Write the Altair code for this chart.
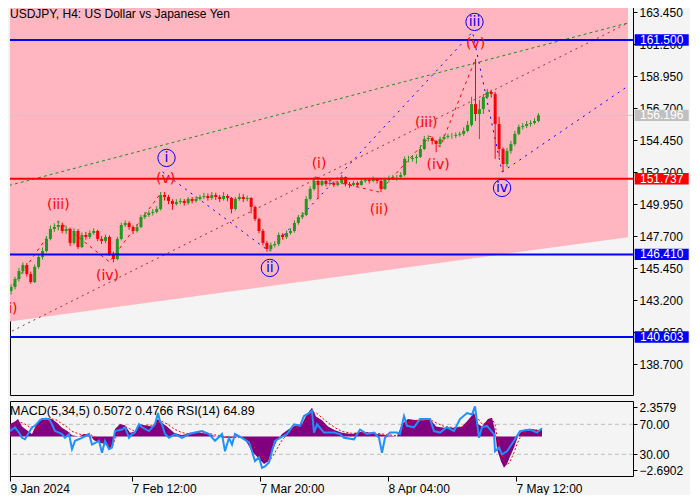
import altair as alt
import pandas as pd

TITLE = "USDJPY, H4:  US Dollar vs Japanese Yen"
IND_TITLE = "MACD(5,34,5) 0.5072 0.4766 RSI(14) 64.89"

# ---------------- price bars (bar index ~ chart column) ----------------
bar_x = list(range(4, 541, 4))
opens = [143.84, 144.12, 144.68, 145.24, 145.67, 145.03, 144.47, 145.53, 146.23, 146.65,
         147.50, 148.20, 148.34, 148.48, 148.06, 148.20, 147.22, 148.06, 146.93, 147.78,
         147.64, 147.92, 148.06, 147.50, 147.36, 147.64, 146.44, 146.09, 147.50, 148.48,
         148.62, 148.34, 148.06, 148.34, 149.04, 149.19, 149.33, 149.40, 149.61, 150.59,
         150.45, 150.17, 149.96, 150.10, 150.17, 150.03, 150.31, 150.17, 150.31, 150.45,
         150.52, 150.38, 150.59, 150.45, 150.31, 150.52, 150.38, 149.61, 150.31, 150.45,
         150.31, 150.38, 149.75, 148.90, 148.06, 147.22, 146.79, 147.07, 147.14, 147.78,
         147.64, 147.92, 148.06, 148.62, 149.04, 149.19, 150.31, 151.02, 151.58, 151.30,
         151.58, 151.37, 151.44, 151.30, 151.44, 151.86, 151.37, 151.30, 151.44, 151.30,
         151.58, 151.65, 151.58, 151.72, 151.58, 151.02, 151.65, 151.79, 151.86, 151.86,
         152.00, 153.13, 153.13, 153.20, 153.27, 153.83, 154.53, 154.60, 154.39, 154.18,
         154.53, 154.68, 154.75, 154.75, 154.82, 154.89, 155.10, 155.52, 156.99, 156.29,
         156.64, 157.49, 157.84, 157.70, 155.59, 153.83, 152.77, 153.69, 154.18, 154.89,
         155.38, 155.45, 155.59, 155.66, 155.80]
highs = [144.30, 144.85, 145.45, 145.85, 145.80, 145.20, 145.70, 146.40, 146.90, 147.70,
         148.45, 148.60, 148.75, 148.65, 148.45, 148.30, 148.25, 148.20, 147.95, 148.00,
         148.10, 148.25, 148.15, 147.70, 147.80, 147.75, 146.60, 147.65, 148.65, 148.80,
         148.75, 148.45, 148.55, 149.20, 149.40, 149.50, 149.60, 149.80, 150.80, 150.80,
         150.60, 150.30, 150.30, 150.35, 150.30, 150.45, 150.45, 150.50, 150.60, 150.75,
         150.70, 150.80, 150.75, 150.60, 150.80, 150.65, 150.45, 150.45, 150.70, 150.65,
         150.55, 150.45, 149.85, 149.00, 148.20, 147.35, 147.25, 147.35, 147.95, 147.90,
         148.10, 148.25, 148.80, 149.20, 149.40, 150.50, 151.20, 151.86, 151.65, 151.80,
         151.70, 151.60, 151.55, 151.60, 152.00, 151.90, 151.50, 151.60, 151.55, 151.75,
         151.80, 151.80, 151.90, 151.80, 151.65, 151.80, 151.95, 152.00, 152.00, 152.20,
         153.30, 153.35, 153.40, 153.45, 154.10, 154.75, 154.80, 154.70, 154.45, 154.70,
         154.85, 154.90, 154.95, 155.00, 155.05, 155.35, 155.80, 157.50, 160.16, 157.30,
         157.70, 158.05, 158.00, 157.85, 156.10, 153.95, 153.90, 154.40, 155.10, 155.55,
         155.65, 155.80, 155.85, 156.00, 156.35]
lows = [143.60, 143.95, 144.50, 145.05, 144.85, 144.35, 144.40, 145.40, 146.05, 146.55,
        147.40, 148.00, 148.10, 147.90, 147.85, 147.00, 147.10, 146.79, 146.85, 147.45,
        147.50, 147.80, 147.35, 147.15, 147.20, 146.30, 145.85, 146.00, 147.40, 148.35,
        148.15, 147.85, 147.95, 148.25, 148.90, 149.05, 149.15, 149.30, 149.50, 150.20,
        149.95, 149.55, 149.85, 149.95, 149.85, 149.90, 150.00, 150.05, 150.20, 150.30,
        150.20, 150.25, 150.25, 150.10, 150.20, 150.15, 149.30, 149.50, 150.20, 150.10,
        150.15, 149.30, 148.75, 147.90, 147.05, 146.60, 146.62, 146.90, 147.00, 147.45,
        147.50, 147.80, 147.95, 148.50, 148.90, 149.10, 150.20, 150.90, 150.30, 151.20,
        151.20, 151.25, 151.15, 151.20, 151.35, 151.20, 151.10, 151.20, 151.15, 151.25,
        151.45, 151.40, 151.50, 151.40, 150.80, 150.95, 151.55, 151.65, 151.60, 151.70,
        151.90, 152.90, 152.95, 152.80, 153.20, 153.75, 154.35, 154.15, 153.60, 154.05,
        154.45, 154.55, 154.55, 154.60, 154.70, 154.75, 155.00, 155.40, 155.80, 154.53,
        156.30, 157.35, 157.45, 153.13, 153.27, 152.21, 152.55, 153.50, 154.05, 154.80,
        155.20, 155.30, 155.40, 155.55, 155.70]
closes = [144.12, 144.68, 145.24, 145.67, 145.03, 144.47, 145.53, 146.23, 146.65, 147.50,
          148.20, 148.34, 148.48, 148.06, 148.20, 147.22, 148.06, 146.93, 147.78, 147.64,
          147.92, 148.06, 147.50, 147.36, 147.64, 146.44, 146.09, 147.50, 148.48, 148.62,
          148.34, 148.06, 148.34, 149.04, 149.19, 149.33, 149.40, 149.61, 150.59, 150.45,
          150.17, 149.96, 150.10, 150.17, 150.03, 150.31, 150.17, 150.31, 150.45, 150.52,
          150.38, 150.59, 150.45, 150.31, 150.52, 150.38, 149.61, 150.31, 150.45, 150.31,
          150.38, 149.75, 148.90, 148.06, 147.22, 146.79, 147.07, 147.14, 147.78, 147.64,
          147.92, 148.06, 148.62, 149.04, 149.19, 150.31, 151.02, 151.58, 151.30, 151.58,
          151.37, 151.44, 151.30, 151.44, 151.86, 151.37, 151.30, 151.44, 151.30, 151.58,
          151.65, 151.58, 151.72, 151.58, 151.02, 151.65, 151.79, 151.86, 151.86, 152.00,
          153.13, 153.13, 153.20, 153.27, 153.83, 154.53, 154.60, 154.39, 154.18, 154.53,
          154.68, 154.75, 154.75, 154.82, 154.89, 155.10, 155.52, 156.99, 156.29, 156.64,
          157.49, 157.84, 157.70, 155.59, 153.83, 152.77, 153.69, 154.18, 154.89, 155.38,
          155.45, 155.59, 155.66, 155.80, 156.20]

# ---------------- axis ticks ----------------
price_ticks = [138.70, 140.95, 143.20, 145.45, 147.70, 149.95, 152.20, 154.45, 156.70, 158.95, 161.20, 163.45]
date_ticks = [8, 130, 258, 386, 514]
date_labels = ["9 Jan 2024", "7 Feb 12:00", "7 Mar 20:00", "8 Apr 04:00", "7 May 12:00"]

# ---------------- levels ----------------
level_price = [161.500, 151.737, 146.410, 140.603]
level_color = ["#0000ff", "#ff0000", "#0000ff", "#0000ff"]
bid_price = 156.196
box_price = [161.500, 156.196, 151.737, 146.410, 140.603]
box_text = ["161.500", "156.196", "151.737", "146.410", "140.603"]
box_color = ["#0000ff", "#c0c0c0", "#ff0000", "#0000ff", "#0000ff"]

# ---------------- channel & trend lines ----------------
chan_x = [2, 631]
chan_top = [163.96, 166.07]
chan_bottom = [141.68, 147.62]
green_x, green_p = [2, 631], [151.26, 162.70]
brown_x, brown_p = [5, 631], [141.02, 162.70]
bch_x, bch_p = [503, 631], [152.21, 158.26]
bw_x, bw_p = [158, 266, 473, 503], [152.21, 146.65, 162.06, 152.21]
rw1_x, rw1_p = [2, 52, 104, 157], [143.84, 148.76, 145.88, 150.80]
rw2_x, rw2_p = [313, 378, 430, 440, 476], [151.86, 150.80, 154.74, 153.97, 160.16]

# ---------------- wave labels ----------------
red_lab = ["(i)", "(iii)", "(iv)", "(v)", "(i)", "(ii)", "(iii)", "(iv)", "(v)"]
red_x = [3, 52, 102, 161, 317, 378, 426, 438, 476]
red_p = [142.57, 149.92, 144.86, 151.75, 152.74, 149.57, 155.66, 152.67, 161.22]
blue_lab = ["i", "ii", "iii", "iv"]
blue_x = [162, 267, 475, 503]
blue_p = [153.20, 145.46, 162.77, 151.09]

# ---------------- indicators ----------------
macd_x = [8, 13, 16, 20, 25, 30, 34, 38, 44, 50,
          55, 60, 66, 70, 77, 82, 87, 92, 98, 103,
          108, 111, 113, 118, 123, 128, 133, 137, 143, 150,
          156, 160, 165, 172, 180, 188, 198, 207, 214, 222,
          230, 240, 245, 250, 256, 262, 266, 270, 275, 280,
          287, 294, 300, 305, 310, 314, 320, 326, 333, 340,
          350, 360, 368, 375, 385, 395, 400, 406, 415, 422,
          428, 434, 442, 452, 460, 466, 472, 476, 480, 486,
          490, 493, 495, 499, 502, 505, 508, 512, 515, 518,
          524, 530, 536, 540]
macd_val = [1.0, 1.2, 1.4, 0.8, 0.5, 0.2, 0.9, 1.4, 1.5, 1.4,
            1.1, 0.7, 0.4, 0.1, 0.0, 0.2, 0.2, -0.3, -0.5, -0.6,
            -1.0, -0.5, 0.6, 1.0, 0.9, 0.3, 0.4, 1.0, 0.9, 0.8,
            1.4, 1.1, 0.8, 0.3, 0.1, 0.3, 0.3, 0.2, 0.0, -0.1,
            -0.1, 0.0, -0.5, -1.2, -1.7, -2.2, -2.0, -1.2, -0.3, 0.2,
            0.6, 0.9, 1.0, 1.8, 2.3, 1.6, 1.3, 0.8, 0.5, 0.3,
            0.2, 0.4, 0.3, 0.2, 0.1, 0.0, 1.0, 1.4, 1.3, 1.3,
            1.4, 0.8, 0.7, 0.7, 0.8, 1.3, 1.9, 1.0, 0.8, 1.4,
            1.5, 0.5, -1.0, -2.0, -2.5, -2.2, -1.6, -0.9, -0.2, 0.3,
            0.6, 0.6, 0.5, 0.51]
signal_val = [0.7, 0.9, 1.1, 1.1, 0.9, 0.6, 0.6, 0.9, 1.2, 1.4,
              1.3, 1.0, 0.7, 0.4, 0.2, 0.1, 0.2, 0.0, -0.3, -0.5,
              -0.7, -0.7, -0.2, 0.5, 0.8, 0.6, 0.4, 0.6, 0.9, 0.9,
              1.1, 1.2, 1.0, 0.6, 0.3, 0.2, 0.3, 0.25, 0.1, 0.0,
              -0.1, -0.05, -0.2, -0.7, -1.2, -1.8, -2.0, -1.7, -1.0, -0.3,
              0.3, 0.7, 0.9, 1.3, 1.9, 1.9, 1.5, 1.1, 0.7, 0.4,
              0.25, 0.3, 0.3, 0.25, 0.15, 0.05, 0.5, 1.1, 1.3, 1.3,
              1.35, 1.1, 0.8, 0.7, 0.75, 1.0, 1.5, 1.4, 1.0, 1.1,
              1.4, 1.0, 0.0, -1.2, -2.0, -2.3, -2.0, -1.3, -0.6, -0.1,
              0.4, 0.55, 0.5, 0.48]
rsi_x = [8, 13, 17, 20, 23, 27, 30, 33, 37, 40,
         47, 50, 53, 57, 60, 63, 67, 70, 73, 80,
         87, 90, 97, 100, 103, 107, 110, 113, 120, 123,
         127, 130, 133, 137, 140, 147, 153, 156, 158, 160,
         163, 167, 173, 180, 187, 193, 200, 207, 213, 220,
         223, 227, 230, 233, 240, 247, 250, 253, 257, 260,
         263, 267, 270, 273, 278, 285, 292, 298, 302, 307,
         310, 312, 315, 322, 332, 338, 342, 352, 358, 365,
         372, 377, 380, 383, 388, 395, 398, 402, 405, 412,
         418, 428, 432, 438, 445, 452, 458, 465, 470, 473,
         477, 480, 485, 492, 493, 497, 500, 505, 512, 518,
         528, 535, 540]
rsi_val = [61, 66, 59, 52, 50, 59, 66, 68, 74, 77,
           77, 70, 61, 59, 57, 52, 57, 37, 48, 52,
           57, 43, 48, 32, 48, 37, 39, 61, 63, 66,
           52, 57, 59, 70, 66, 61, 70, 85, 74, 70,
           57, 52, 57, 52, 57, 59, 61, 57, 48, 57,
           34, 52, 43, 57, 52, 46, 34, 21, 26, 12,
           14, 19, 34, 48, 52, 57, 70, 68, 81, 85,
           88, 59, 70, 59, 59, 57, 52, 50, 63, 57,
           59, 52, 32, 52, 59, 59, 57, 81, 68, 66,
           77, 77, 61, 59, 66, 61, 77, 85, 83, 94,
           52, 66, 68, 57, 34, 39, 30, 34, 48, 61,
           63, 59, 64.89]
rsi_levels = [70, 30]
macd_ticks = [2.3579, -2.6902]

# ---------------- layout / styles ----------------
W, H_MAIN, H_SUB = 623, 388, 75
X_DOM = [8, 631]
Y_DOM = [136.52, 163.82]
MACD_DOM = [-3.171, 2.839]
RSI_DOM = [1.07, 101.07]
LBL_FONT = "Liberation Sans"
GREEN, RED = "#1f9a1f", "#ff0000"

xs = alt.Scale(domain=X_DOM, nice=False, zero=False)
ys = alt.Scale(domain=Y_DOM, nice=False, zero=False)
main_axis = alt.Axis(orient="right", values=price_ticks, format=".3f", tickSize=4, tickColor="black",
                     domain=False, grid=False, labelFont=LBL_FONT, labelFontSize=12, labelColor="black",
                     labelPadding=2, labelFlush=False, labelOverlap=False, title=None)


def MX(f):
    return alt.X(f"{f}:Q", scale=xs, axis=None)


def MY(f):
    return alt.Y(f"{f}:Q", scale=ys, axis=main_axis)


def line_layer(xv, pv, color, dash, width=1):
    d = pd.DataFrame({"x": xv, "p": pv})
    return alt.Chart(d).mark_line(color=color, strokeDash=dash, strokeWidth=width, clip=True).encode(
        x=MX("x"), y=MY("p"))


chan = alt.Chart(pd.DataFrame({"x": chan_x, "top": chan_top, "bot": chan_bottom})).mark_area(
    color="#ffb6c1", opacity=1, clip=True).encode(x=MX("x"), y=MY("top"), y2="bot:Q")

bid = alt.Chart(pd.DataFrame({"p": [bid_price]})).mark_rule(color="#c8c8c8", strokeWidth=1).encode(y=MY("p"))

green_l = line_layer(green_x, green_p, "#228b22", [3, 3])
brown_l = line_layer(brown_x, brown_p, "#a52a2a", [2, 4])
bch_l = line_layer(bch_x, bch_p, "#0000ff", [2, 5])
bw_l = line_layer(bw_x, bw_p, "#0000ff", [2, 5])
rw1_l = line_layer(rw1_x, rw1_p, "#ff0000", [3, 4])
rw2_l = line_layer(rw2_x, rw2_p, "#ff0000", [3, 4])

cdf = pd.DataFrame({"x": bar_x, "o": opens, "h": highs, "l": lows, "c": closes})
cbase = alt.Chart(cdf).transform_calculate(dir="datum.c >= datum.o ? 'up' : 'down'")
ccolor = alt.Color("dir:N", scale=alt.Scale(domain=["up", "down"], range=[GREEN, RED]), legend=None)
wick = cbase.mark_rule(strokeWidth=1, clip=True).encode(x=MX("x"), y=MY("h"), y2="l:Q", color=ccolor)
body = cbase.mark_bar(size=3, clip=True).encode(x=MX("x"), y=MY("o"), y2="c:Q", color=ccolor)

levels = alt.Chart(pd.DataFrame({"p": level_price, "col": level_color})).mark_rule(strokeWidth=2).encode(
    y=MY("p"), color=alt.Color("col:N", scale=None))

red_t = alt.Chart(pd.DataFrame({"x": red_x, "p": red_p, "t": red_lab})).mark_text(
    color="#ff0000", font="DejaVu Sans", fontSize=14, align="center", baseline="middle", clip=True).encode(
    x=MX("x"), y=MY("p"), text="t:N")
bdf = pd.DataFrame({"x": blue_x, "p": blue_p, "t": blue_lab})
blue_c = alt.Chart(bdf).mark_point(shape="circle", filled=False, size=300, color="#0000ff", strokeWidth=1,
                                   opacity=1).encode(x=MX("x"), y=MY("p"))
blue_t = alt.Chart(bdf).mark_text(color="#0000ff", font="DejaVu Sans", fontSize=14, align="center",
                                  baseline="middle").encode(x=MX("x"), y=MY("p"), text="t:N")

title_t = alt.Chart(pd.DataFrame({"t": [TITLE]})).mark_text(
    align="left", baseline="alphabetic", font=LBL_FONT, fontSize=12, color="black").encode(
    x=alt.value(0), y=alt.value(11), text="t:N")

boxdf = pd.DataFrame({"p": box_price, "t": box_text, "col": box_color})
box_r = alt.Chart(boxdf).transform_calculate(top="datum.p + 0.4", bot="datum.p - 0.4").mark_rect().encode(
    x=alt.value(624.7), x2=alt.value(678.7), y=MY("top"), y2="bot:Q", color=alt.Color("col:N", scale=None))
box_t = alt.Chart(boxdf).mark_text(color="white", font=LBL_FONT, fontSize=12, align="center",
                                   baseline="middle").encode(x=alt.value(651.7), y=MY("p"), text="t:N")

main = alt.layer(chan, bid, green_l, brown_l, bch_l, bw_l, rw1_l, rw2_l, wick, body, levels,
                 red_t, blue_c, blue_t, title_t, box_r, box_t).properties(width=W, height=H_MAIN)

# ---------------- indicator panel ----------------
label_expr = " : ".join(f"datum.value == {t} ? '{l}'" for t, l in zip(date_ticks, date_labels)) + " : ''"
x_axis_sub = alt.Axis(orient="bottom", values=date_ticks, labelExpr=label_expr, tickSize=5, tickColor="black",
                      domain=False, grid=False, labelFont=LBL_FONT, labelFontSize=12, labelColor="black",
                      labelAlign="left", labelBaseline="top", labelPadding=2, labelFlush=False,
                      labelOverlap=False, title=None)
ms = alt.Scale(domain=MACD_DOM, nice=False, zero=False)
rs = alt.Scale(domain=RSI_DOM, nice=False, zero=False)
macd_axis = alt.Axis(orient="right", values=macd_ticks, format=".4f", tickSize=4, tickColor="black",
                     domain=False, grid=False, labelFont=LBL_FONT, labelFontSize=12, labelColor="black",
                     labelPadding=2, labelFlush=False, labelOverlap=False, title=None)
rsi_axis = alt.Axis(orient="right", values=rsi_levels, format=".2f", tickSize=4, tickColor="black",
                    domain=False, grid=False, labelFont=LBL_FONT, labelFontSize=12, labelColor="black",
                    labelPadding=2, labelFlush=False, labelOverlap=False, title=None)


def SX(f):
    return alt.X(f"{f}:Q", scale=xs, axis=x_axis_sub)


mdf = pd.DataFrame({"x": macd_x, "m": macd_val, "s": signal_val})
rdf = pd.DataFrame({"x": rsi_x, "r": rsi_val})

lvl = alt.Chart(pd.DataFrame({"v": rsi_levels})).mark_rule(color="#bdbdbd", strokeDash=[4, 3]).encode(
    y=alt.Y("v:Q", scale=rs, axis=rsi_axis))
hist = alt.Chart(mdf).mark_area(color="#800080", clip=True).encode(
    x=SX("x"), y=alt.Y("m:Q", scale=ms, axis=macd_axis), y2=alt.datum(0))
sig = alt.Chart(mdf).mark_line(color="#ff0000", strokeDash=[2, 2], strokeWidth=1, clip=True).encode(
    x=SX("x"), y=alt.Y("s:Q", scale=ms, axis=macd_axis))
rsi = alt.Chart(rdf).mark_line(color="#1e90ff", strokeWidth=2, clip=True).encode(
    x=SX("x"), y=alt.Y("r:Q", scale=rs, axis=None))
ind_t = alt.Chart(pd.DataFrame({"t": [IND_TITLE]})).mark_text(
    align="left", baseline="alphabetic", font=LBL_FONT, fontSize=12.5, color="black").encode(
    x=alt.value(0), y=alt.value(14), text="t:N")

sub = alt.layer(lvl, alt.layer(hist, sig), rsi, ind_t).resolve_scale(y="independent").properties(
    width=W, height=H_SUB)

chart = alt.vconcat(main, sub, spacing=4).properties(
    padding={"left": 0, "top": -3, "right": 0, "bottom": 0}, background="#f4f4f4").configure_view(
    stroke="black", strokeWidth=1, fill="#f4f4f4")

chart.save("out.html", embed_options={"renderer": "svg", "actions": False})
